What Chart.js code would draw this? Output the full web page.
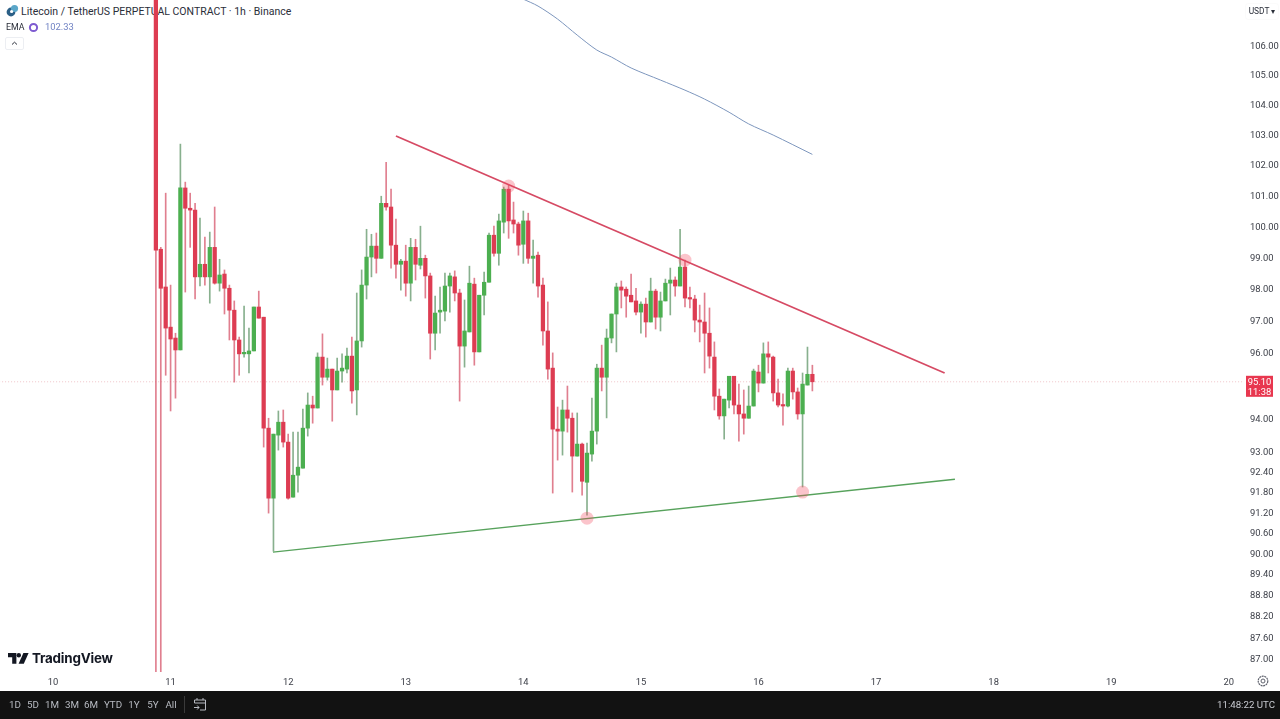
<!DOCTYPE html>
<html>
<head>
<meta charset="utf-8">
<title>Litecoin / TetherUS</title>
<script src="https://cdn.jsdelivr.net/npm/chart.js@4/dist/chart.umd.min.js"></script>
<style>
  html, body { margin: 0; padding: 0; width: 1280px; height: 719px; overflow: hidden; background: #fff; }
  body { position: relative; font-family: Roboto, "Open Sans", sans-serif; color: #131722; }
  #wrap { position: absolute; left: 0; top: 0; width: 1280px; height: 691px; z-index: 2; }
  .txt { position: absolute; white-space: nowrap; }
  .over { z-index: 3; }
  #title { left: 21px; top: 4px; font-size: 10.5px; line-height: 16px; color: #2a2e39; z-index: 1; }
  #emaName { left: 6px; top: 21px; font-size: 8.8px; line-height: 13px; color: #2a2e39; }
  #emaValue { left: 45px; top: 20px; font-size: 9.4px; line-height: 14px; color: #7183c4; }
  #collapse { left: 5px; top: 37px; width: 19px; height: 13px; border: 1px solid #eceef2; border-radius: 2px; box-sizing: border-box; text-align: center; }
  #usdt { left: 1246px; top: 4px; width: 32px; height: 15px; font-size: 8.4px; line-height: 15px; color: #2a2e39; text-align: center; background: #fff; border-radius: 2px; box-shadow: 0 0 2px #eee; }
  #brand { left: 32px; top: 649px; font-size: 13.4px; line-height: 18px; font-weight: 700; font-family: Inter, Roboto, sans-serif; color: #131722; letter-spacing: -0.2px; }
  #bar { position: absolute; left: 0; top: 691px; width: 1280px; height: 28px; background: #121212; z-index: 4; }
  #bar span { position: absolute; top: 7px; font-size: 9.8px; line-height: 13px; color: #b8bbc2; transform: translateX(-50%); }
  #bar #clock { left: auto; right: 5px; transform: none; font-size: 9.7px; color: #c8cad0; }
  #sep { position: absolute; left: 184px; top: 5px; width: 1px; height: 17px; background: #3a3a3a; }
</style>
</head>
<body>
<div class="txt" id="title">Litecoin / TetherUS PERPETUAL CONTRACT · 1h · Binance</div>
<svg class="txt" style="left:6px;top:4px;z-index:1" width="13" height="13" viewBox="0 0 13 13">
  <circle cx="5" cy="8" r="4.4" fill="#2b5f86"/><circle cx="8.5" cy="4.5" r="3.6" fill="#5aa6c8"/><circle cx="5.6" cy="7.5" r="1.6" fill="#fff"/>
</svg>
<div class="txt over" id="emaName">EMA</div>
<svg class="txt over" style="left:28px;top:22px" width="11" height="11" viewBox="0 0 11 11">
  <circle cx="5.5" cy="5.5" r="3.6" fill="none" stroke="#7e5bd0" stroke-width="2"/>
</svg>
<div class="txt over" id="emaValue">102.33</div>
<div class="txt over" id="collapse">
  <svg width="9" height="9" viewBox="0 0 9 9" style="display:block;margin:1px auto"><path d="M2 5.5 L4.5 3.2 L7 5.5" fill="none" stroke="#2a2e39" stroke-width="1"/></svg>
</div>
<div class="txt over" id="usdt">USDT ▾</div>
<svg class="txt over" style="left:8px;top:653px" width="21" height="11" viewBox="0 0 21 11">
  <path d="M0 0 H8.4 V10.8 H4.2 V4.2 H0 Z" fill="#131722"/><circle cx="10.8" cy="2.2" r="2.2" fill="#131722"/><path d="M15.4 0 H20.6 L15.8 10.8 H10.6 Z" fill="#131722"/>
</svg>
<div class="txt over" id="brand">TradingView</div>
<svg class="txt over" style="left:1256px;top:674px" width="14" height="14" viewBox="0 0 14 14">
  <circle cx="7" cy="7" r="2" fill="none" stroke="#5d606b" stroke-width="1"/><circle cx="7" cy="7" r="4.8" fill="none" stroke="#5d606b" stroke-width="1.2" stroke-dasharray="2 .6"/>
</svg>

<div id="wrap"><canvas id="chart" width="1280" height="691"></canvas></div>

<div id="bar">
  <span style="left:15px">1D</span><span style="left:33px">5D</span><span style="left:52px">1M</span>
  <span style="left:72px">3M</span><span style="left:91px">6M</span><span style="left:113px">YTD</span>
  <span style="left:134px">1Y</span><span style="left:153px">5Y</span><span style="left:171px">All</span>
  <div id="sep"></div>
  <svg style="position:absolute;left:193px;top:6px" width="14" height="15" viewBox="0 0 14 15">
    <path d="M1.5 6 V3 H12.5 V13 H7 M1.5 6 H12.5 M4 1 V3 M10 1 V3 M1 10.5 H6 M4.2 8.5 L6 10.5 L4.2 12.5" fill="none" stroke="#b8bbc2" stroke-width="1"/>
  </svg>
  <span id="clock">11:48:22 UTC</span>
</div>

<script>
// hourly candles, hours counted from day 10 00:00
const firstHour = 21

const opens = [112.00,99.25,98.05,96.79,96.45,96.08,101.23,100.57,100.51,98.37,98.77,98.37,99.31,98.17,98.46,98.01,97.32,96.39,95.96,95.96,
  96.05,97.42,97.10,93.69,91.60,93.48,93.87,93.27,91.63,92.28,92.49,93.69,94.39,94.30,95.86,95.24,95.49,94.85,95.43,95.49,
  95.89,94.85,96.36,98.11,99.00,99.35,98.96,100.73,100.61,99.38,98.77,98.87,98.17,99.31,98.74,98.96,98.40,96.60,97.26,97.29,
  98.08,98.37,97.86,96.20,96.64,98.14,96.02,97.79,98.20,99.70,99.12,100.12,101.19,100.19,100.06,99.41,100.16,98.96,99.06,98.11,
  96.67,95.52,93.66,93.60,94.24,93.99,92.85,93.21,92.07,92.91,93.60,95.52,95.24,96.45,97.20,98.05,97.98,97.79,97.61,97.26,
  97.51,96.95,97.92,97.10,97.61,98.17,98.27,98.08,98.68,97.70,97.67,97.01,96.95,96.60,95.86,94.66,94.06,94.54,95.27,94.39,
  94.12,93.99,94.36,95.40,95.06,95.96,95.86,94.76,94.39,94.36,95.43,94.79,94.12,95.00,95.33]

const highs = [113.00,99.31,101.06,98.11,96.60,102.67,101.42,101.06,100.73,100.25,99.64,99.80,100.61,98.93,98.59,98.11,97.61,96.48,97.45,96.76,
  97.42,97.92,97.10,93.99,93.51,94.21,94.24,93.51,93.57,93.57,94.27,94.76,94.66,95.99,96.58,95.83,95.49,95.83,95.96,96.14,
  96.48,97.86,98.59,99.89,99.73,99.77,100.96,102.07,101.19,100.22,98.93,99.38,99.60,99.57,99.99,99.06,98.49,97.76,98.05,98.49,
  98.49,98.56,97.98,97.64,98.71,98.33,97.79,98.52,99.77,99.99,100.38,101.26,101.32,100.77,100.12,100.48,100.41,99.54,99.16,98.33,
  97.58,95.99,94.33,94.54,94.97,94.15,94.15,93.24,93.24,94.60,95.64,96.23,96.73,97.20,98.17,98.24,98.05,98.46,98.01,97.58,
  97.70,98.33,97.98,97.89,98.30,98.65,98.37,99.89,98.90,98.05,97.79,97.48,97.86,97.39,96.33,94.88,94.57,95.27,95.27,95.03,
  94.85,94.97,95.49,95.61,96.30,96.33,95.89,95.18,94.73,95.52,95.52,94.91,95.37,96.17,95.61]

const lows = [86.00,86.00,95.30,94.21,94.60,96.08,97.89,99.31,97.67,98.08,98.11,97.54,98.14,97.92,97.20,96.39,95.09,95.30,95.86,95.37,
  96.05,97.07,93.12,91.16,90.05,93.03,93.12,91.57,91.63,91.78,92.49,93.45,93.84,94.30,95.00,95.15,93.90,94.85,95.09,95.37,
  94.45,94.09,96.17,97.67,98.37,98.49,98.96,100.51,98.65,98.33,97.95,97.76,97.61,98.27,98.62,97.70,95.80,96.08,96.60,96.98,
  97.26,97.61,94.51,95.55,96.64,95.61,96.02,97.17,98.20,99.03,98.74,99.77,99.60,99.77,99.06,98.80,98.80,98.17,97.73,96.23,
  95.18,91.75,92.73,92.88,93.57,91.78,92.85,91.69,91.10,92.70,93.21,94.82,94.00,96.30,96.02,97.39,97.10,97.58,97.17,96.60,
  96.48,96.95,96.73,96.67,97.61,97.17,97.76,98.08,97.42,97.39,96.64,96.33,95.37,95.52,94.24,93.96,93.36,94.30,94.12,93.30,
  93.51,93.99,94.36,94.79,95.06,95.37,94.51,94.33,93.78,94.33,94.57,93.96,91.93,95.00,94.82]

const closes = [99.22,98.01,96.76,96.42,96.08,101.23,100.57,100.51,98.37,98.77,98.37,99.31,98.17,98.43,98.01,97.32,96.39,95.96,95.99,96.05,
  97.42,97.07,93.69,91.60,93.51,93.87,93.27,91.60,92.28,92.52,93.69,94.39,94.30,95.86,95.24,95.49,94.85,95.43,95.52,95.89,
  94.82,96.36,98.11,99.00,99.35,98.96,100.73,100.61,99.38,98.77,98.87,98.17,99.31,98.77,98.96,98.40,96.60,97.23,97.32,98.08,
  98.40,97.86,96.20,96.67,98.17,96.02,97.79,98.20,99.70,99.12,100.16,101.19,100.16,100.06,99.38,100.16,98.96,99.03,98.08,96.67,
  95.49,93.66,93.60,94.24,93.99,92.85,93.21,92.10,92.94,93.60,95.52,95.24,96.45,97.20,98.05,97.95,97.76,97.58,97.26,97.51,
  96.95,97.92,97.10,97.61,98.17,98.27,98.08,98.68,97.70,97.67,97.01,96.95,96.60,95.89,94.66,94.06,94.57,95.27,94.39,94.12,
  93.99,94.36,95.43,95.06,95.96,95.86,94.76,94.39,94.36,95.43,94.79,94.12,95.03,95.33,95.10]

const emaHours = [96,99,103,107,111,114,118,124,129,133,138,142,147,155]
const emaValues = [107.58,107.34,106.89,106.34,105.83,105.59,105.22,104.81,104.47,104.17,103.73,103.34,102.97,102.33]

const resistanceHours = [70,182]
const resistanceValues = [102.94,95.37]
const supportHours = [44.9,184.1]
const supportValues = [90.02,92.16]

const touchHours = [93,129,109,153]
const touchValues = [101.29,98.90,91.01,91.78]

const lastPrice = 95.10
const countdown = '11:38'

const priceTicks = [106,105,104,103,102,101,100,99,98,97,96,94,93,92.4,91.8,91.2,90.6,90,89.4,88.8,88.2,87.6,87]
const dayTicks = [0,24,48,72,96,120,144,168,192,216,240]
const dayLabels = ['10','11','12','13','14','15','16','17','18','19','20']

const upColor = '#4caf50'
const downColor = '#dd3c52'
const upWick = 'rgba(96,150,104,0.75)'
const downWick = 'rgba(214,84,106,0.75)'

const candleHours = opens.map((v, i) => firstHour + i)
const isUp = closes.map((c, i) => c >= opens[i])

function points(xs, ys) {
  return xs.map((x, i) => ({ x: x, y: ys[i] }))
}

// tick labels sit close to the edges, they must not squeeze the plot area
function noMargins(scale) {
  scale.paddingLeft = 0
  scale.paddingRight = 0
  scale.paddingTop = 0
  scale.paddingBottom = 0
  Object.assign(scale._margins, { left: 0, right: 0, top: 0, bottom: 0 })
}

// price tag on the axis, follows the last price
const priceTag = {
  id: 'priceTag',
  afterDraw(chart) {
    const y = chart.scales.y.getPixelForValue(lastPrice)
    const c = chart.ctx
    c.save()
    c.fillStyle = '#e8374f'
    c.fillRect(1246, y - 6, 27, 21)
    c.fillStyle = '#fff'
    c.font = '9.4px Roboto, sans-serif'
    c.textAlign = 'center'
    c.textBaseline = 'middle'
    c.fillText(lastPrice.toFixed(2), 1259.5, y + 0.5)
    c.fillText(countdown, 1259.5, y + 10.5)
    c.restore()
  }
}

new Chart(document.getElementById('chart'), {
  type: 'bar',
  plugins: [priceTag],
  data: {
    datasets: [
      {
        type: 'line',
        data: points(touchHours, touchValues),
        showLine: false,
        pointRadius: 6.5,
        pointBackgroundColor: 'rgba(242,72,92,0.32)',
        pointBorderWidth: 0,
        order: 0
      },
      {
        type: 'line',
        data: points(resistanceHours, resistanceValues),
        borderColor: '#d64a64',
        borderWidth: 1.8,
        pointRadius: 0,
        order: 1
      },
      {
        type: 'line',
        data: points(supportHours, supportValues),
        borderColor: '#57a25c',
        borderWidth: 1.4,
        pointRadius: 0,
        order: 1
      },
      {
        type: 'line',
        data: points(emaHours, emaValues),
        borderColor: '#7d96bd',
        borderWidth: 1,
        pointRadius: 0,
        tension: 0.3,
        order: 2
      },
      {
        data: candleHours.map((h, i) => ({ x: h, y: [opens[i], closes[i]] })),
        backgroundColor: isUp.map(u => u ? upColor : downColor),
        barThickness: 3.6,
        minBarLength: 1.5,
        grouped: false,
        order: 3
      },
      {
        data: candleHours.map((h, i) => ({ x: h, y: [lows[i], highs[i]] })),
        backgroundColor: isUp.map(u => u ? upWick : downWick),
        barThickness: 1,
        grouped: false,
        order: 4
      },
      {
        type: 'line',
        data: points([-11, 243], [lastPrice, lastPrice]),
        borderColor: '#f0c4c8',
        borderWidth: 1,
        borderDash: [1, 2],
        pointRadius: 0,
        order: 5
      }
    ]
  },
  options: {
    responsive: false,
    animation: false,
    events: [],
    layout: { padding: 0, autoPadding: false },
    plugins: {
      legend: { display: false },
      tooltip: { enabled: false }
    },
    scales: {
      x: {
        type: 'linear',
        offset: false,
        min: -10.82,
        max: 242.9,
        grid: { display: false, drawTicks: false },
        border: { display: false },
        afterBuildTicks(scale) { scale.ticks = dayTicks.map(v => ({ value: v })) },
        afterFit(scale) { scale.height = 19; noMargins(scale) },
        ticks: {
          autoSkip: false,
          maxRotation: 0,
          padding: 5,
          color: '#3a3d46',
          font: { family: 'Roboto, sans-serif', size: 9.4 },
          callback: value => dayLabels[dayTicks.indexOf(value)]
        }
      },
      y: {
        type: 'logarithmic',
        position: 'right',
        min: 86.61,
        max: 107.55,
        grid: { display: false, drawTicks: false },
        border: { display: false },
        afterBuildTicks(scale) { scale.ticks = priceTicks.map(v => ({ value: v })) },
        afterFit(scale) { scale.width = 37; noMargins(scale) },
        ticks: {
          autoSkip: false,
          padding: 7,
          labelOffset: 1.5,
          color: '#3a3d46',
          font: { family: 'Roboto, sans-serif', size: 9.4 },
          callback: value => value.toFixed(2)
        }
      }
    }
  }
})
</script>
</body>
</html>
